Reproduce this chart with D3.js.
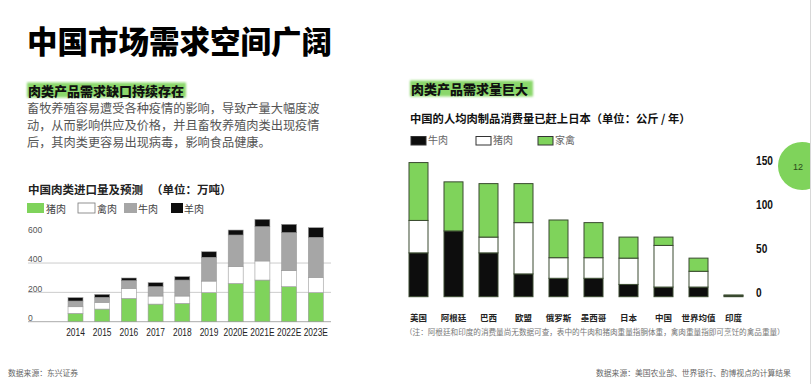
<!DOCTYPE html>
<html><head><meta charset="utf-8">
<script src="https://cdn.jsdelivr.net/npm/d3@7"></script>
<style>
body{margin:0;background:#fff;}
svg{display:block;font-family:"Noto Sans CJK SC","Noto Sans",sans-serif;}
</style></head>
<body>
<svg id="c" width="812" height="384"></svg>
<script>
// ---- Left chart data (万吨) ----
const years = ["2014","2015","2016","2017","2018","2019","2020E","2021E","2022E","2023E"];
const importPork    = [57, 86, 159, 120, 125, 198, 261, 284, 239, 198];
const importPoultry = [45, 46, 68, 55, 50, 79, 114, 130, 109, 104];
const importBeef    = [39, 34, 53, 64, 109, 162, 216, 234, 259, 273];
const importMutton  = [23, 20, 18, 27, 23, 38, 34, 50, 57, 66];
const leftTicks = [0, 200, 400, 600];
const leftSeries = ["猪肉","禽肉","牛肉","羊肉"];

// ---- Right chart data (公斤/年) ----
const countries = ["美国","阿根廷","巴西","欧盟","俄罗斯","墨西哥","日本","中国","世界均值","印度"];
const consBeef    = [50, 75, 50, 26, 21, 21, 14, 11, 11, 1];
const consPork    = [37, 0, 18, 58.5, 23.5, 23.5, 30, 47.5, 18, 0];
const consPoultry = [66, 56, 61, 44.5, 43, 40, 24, 9.5, 15, 1];
const rightTicks = [0, 50, 100, 150];
const rightSeries = ["牛肉","猪肉","家禽"];

const GREEN = "#7fd35b", GRAY = "#a6a6a6", BLACK = "#0d0d0d", WHITE = "#ffffff";
const svg = d3.select("#c");

const defs = svg.append("defs");
defs.append("filter").attr("id","soft").append("feGaussianBlur").attr("stdDeviation",0.8);
defs.append("clipPath").attr("id","clipR").append("rect").attr("x",0).attr("y",0).attr("width",810).attr("height",384);

// ---- Headline ----
svg.append("text").attr("x",27).attr("y",40).attr("dominant-baseline","central")
  .attr("font-size",30.5).attr("font-weight",900).attr("fill","#000").text("中国市场需求空间广阔");

// left subtitle
svg.append("rect").attr("x",27).attr("y",82.5).attr("width",159).attr("height",15).attr("fill",GREEN).attr("opacity",0.9).attr("filter","url(#soft)");
svg.append("text").attr("x",28).attr("y",90).attr("dominant-baseline","central")
  .attr("font-size",13).attr("font-weight",900).attr("fill","#111").text("肉类产品需求缺口持续存在");

const para = ["畜牧养殖容易遭受各种疫情的影响，导致产量大幅度波",
              "动，从而影响供应及价格，并且畜牧养殖肉类出现疫情",
              "后，其肉类更容易出现病毒，影响食品健康。"];
svg.append("g").selectAll("text").data(para).join("text")
  .attr("x",27).attr("y",(d,i)=>108+i*17).attr("dominant-baseline","central")
  .attr("font-size",12.2).attr("fill","#555").text(d=>d);

// ---- Left chart ----
svg.append("text").attr("x",28).attr("y",189).attr("dominant-baseline","central")
  .attr("font-size",11.5).attr("font-weight",700).attr("fill","#222").text("中国肉类进口量及预测");
svg.append("text").attr("x",151).attr("y",189).attr("dominant-baseline","central")
  .attr("font-size",11.5).attr("font-weight",700).attr("fill","#222").text("（单位：万吨）");

const leftColors = [GREEN, WHITE, GRAY, BLACK];
const leftLegX = [27, 78, 124, 171];
const lg = svg.append("g");
leftSeries.forEach((s,i)=>{
  lg.append("rect").attr("x",leftLegX[i]).attr("y",203).attr("width",i===3?12:(i===2?13:17)).attr("height",10)
    .attr("fill",leftColors[i]).attr("stroke",i===1?"#777":"none").attr("stroke-width",0.8);
  lg.append("text").attr("x",leftLegX[i]+(i===3?13:(i===2?14:19))).attr("y",208).attr("dominant-baseline","central")
    .attr("font-size",10).attr("fill","#444").text(s);
});

const xL = d3.scaleBand().domain(years).range([62.15,329.15]).paddingInner(0.44).paddingOuter(0.22);
const yL = d3.scaleLinear().domain([0,600]).range([321.7,233.7]);

svg.append("g").selectAll("line").data(leftTicks.filter(t=>t<600)).join("line")
  .attr("x1",28).attr("x2",331).attr("y1",d=>yL(d)).attr("y2",d=>yL(d))
  .attr("stroke",d=>d===0?"#aaa":"#ccc").attr("stroke-width",1);
svg.append("g").selectAll("text").data(leftTicks).join("text")
  .attr("transform",d=>`translate(28,${yL(d)-4}) scale(0.9,1)`).attr("dominant-baseline","central")
  .attr("font-size",9.5).attr("font-family","Liberation Sans, Arial, sans-serif").attr("fill","#555").text(d=>d);

const leftData = years.map((y,i)=>({year:y, "猪肉":importPork[i], "禽肉":importPoultry[i], "牛肉":importBeef[i], "羊肉":importMutton[i]}));
const stackL = d3.stack().keys(leftSeries)(leftData);
svg.append("g").selectAll("g").data(stackL).join("g")
  .attr("fill",(d,i)=>leftColors[i])
  .selectAll("rect").data(d=>d).join("rect")
  .attr("x",d=>xL(d.data.year)).attr("width",xL.bandwidth())
  .attr("y",d=>yL(d[1])).attr("height",d=>yL(d[0])-yL(d[1]))
  .attr("stroke","#9a9a9a").attr("stroke-width",0.6);

svg.append("g").selectAll("text").data(years).join("text")
  .attr("transform",d=>`translate(${xL(d)+xL.bandwidth()/2},332) scale(0.8,1)`)
  .attr("text-anchor","middle").attr("dominant-baseline","central")
  .attr("font-size",10.5).attr("font-family","Liberation Sans, Arial, sans-serif").attr("fill","#222").text(d=>d);

// ---- Right section ----
svg.append("rect").attr("x",410).attr("y",80.5).attr("width",123).attr("height",16).attr("fill",GREEN).attr("opacity",0.9).attr("filter","url(#soft)");
svg.append("text").attr("x",411).attr("y",88.5).attr("dominant-baseline","central")
  .attr("font-size",13).attr("font-weight",900).attr("fill","#111").text("肉类产品需求量巨大");

svg.append("text").attr("x",410).attr("y",118).attr("dominant-baseline","central")
  .attr("font-size",11.3).attr("font-weight",700).attr("fill","#111").text("中国的人均肉制品消费量已赶上日本（单位：公斤 / 年）");

const rightColors = [BLACK, WHITE, GREEN];
const rightLegX = [411, 476, 538];
const rg = svg.append("g");
rightSeries.forEach((s,i)=>{
  rg.append("rect").attr("x",rightLegX[i]).attr("y",136.5).attr("width",15).attr("height",8.5)
    .attr("fill",rightColors[i]).attr("stroke","#333").attr("stroke-width",1);
  rg.append("text").attr("x",rightLegX[i]+17).attr("y",139.5).attr("dominant-baseline","central")
    .attr("font-size",10).attr("fill","#666").text(s);
});

const xR = d3.scaleBand().domain(countries).range([401,751]).paddingInner(0.457).paddingOuter(0.2285);
const yR = d3.scaleLinear().domain([0,150]).range([296.7,165.2]);

svg.append("g").selectAll("text").data(rightTicks).join("text")
  .attr("transform",d=>`translate(756,${yR(d)-4.5}) scale(0.75,1)`).attr("dominant-baseline","central")
  .attr("font-size",13.5).attr("font-weight",700).attr("font-family","Liberation Sans, Arial, sans-serif")
  .attr("fill","#111").text(d=>d);

const rightData = countries.map((c,i)=>({c, "牛肉":consBeef[i], "猪肉":consPork[i], "家禽":consPoultry[i]}));
const stackR = d3.stack().keys(rightSeries)(rightData);
svg.append("g").selectAll("g").data(stackR).join("g")
  .attr("fill",(d,i)=>rightColors[i])
  .selectAll("rect").data(d=>d.filter(v=>v[1]-v[0]>0)).join("rect")
  .attr("x",d=>xR(d.data.c)).attr("width",xR.bandwidth())
  .attr("y",d=>yR(d[1])).attr("height",d=>Math.max(0.5,yR(d[0])-yR(d[1])))
  .attr("stroke","#3a4a30").attr("stroke-width",1);

svg.append("g").selectAll("text").data(countries).join("text")
  .attr("x",d=>xR(d)+xR.bandwidth()/2).attr("y",317).attr("text-anchor","middle").attr("dominant-baseline","central")
  .attr("font-size",8.5).attr("font-weight",700).attr("fill","#222").text(d=>d);

svg.append("text").attr("x",405).attr("y",331).attr("dominant-baseline","central")
  .attr("font-size",7.6).attr("fill","#777")
  .text("（注：阿根廷和印度的消费量尚无数据可查，表中的牛肉和猪肉重量指胴体重，禽肉重量指即可烹饪的禽品重量）");

// sources
svg.append("text").attr("x",8).attr("y",372).attr("dominant-baseline","central")
  .attr("font-size",7.8).attr("fill","#666").text("数据来源：东兴证券");
svg.append("text").attr("x",596).attr("y",372).attr("dominant-baseline","central")
  .attr("font-size",7.8).attr("fill","#666").text("数据来源：美国农业部、世界银行、酌博视点的计算结果");

// page badge
const badge = svg.append("g").attr("clip-path","url(#clipR)");
badge.append("circle").attr("cx",802).attr("cy",166).attr("r",24).attr("fill",GREEN);
svg.append("text").attr("x",798).attr("y",167).attr("text-anchor","middle").attr("dominant-baseline","central")
  .attr("font-size",9).attr("font-family","Liberation Sans, Arial, sans-serif").attr("fill","#2a4a1a").text("12");
svg.append("line").attr("x1",810.5).attr("x2",810.5).attr("y1",0).attr("y2",384).attr("stroke","#d8d8d8").attr("stroke-width",1);
</script>
</body></html>
